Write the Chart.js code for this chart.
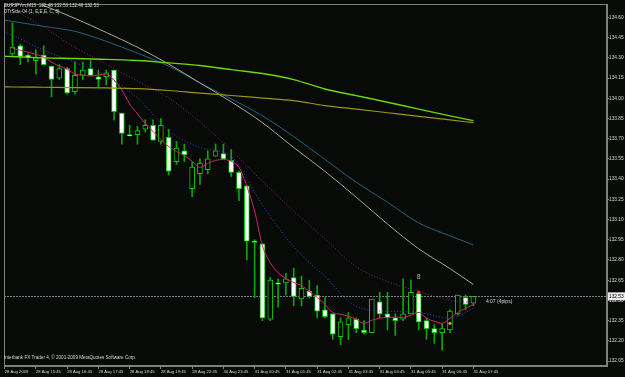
<!DOCTYPE html>
<html>
<head>
<meta charset="utf-8">
<script src="https://cdn.jsdelivr.net/npm/chart.js@4.4.1/dist/chart.umd.min.js"></script>
<style>
  body { margin: 0; background: #070a07; }
  #wrap { width: 625px; height: 377px; }
</style>
</head>
<body>
<div id="wrap"><canvas id="chart" width="625" height="377"></canvas></div>
<script>
// EURJPYm M15, one value per bar (bar 0 = 28 Aug 15:00)
const opens = [134.33,134.39,134.32,134.28,134.32,134.24,134.15,134.22,134.05,134.17,
    134.22,134.16,134.16,134.21,133.89,133.73,133.73,133.77,133.80,133.68,
    133.71,133.53,133.61,133.33,133.44,133.47,133.57,133.59,133.54,133.45,
    133.35,132.94,132.92,132.36,132.63,132.63,132.67,132.51,132.57,132.54,
    132.43,132.40,132.23,132.32,132.36,132.28,132.26,132.49,132.40,132.37,
    132.36,132.40,132.55,132.35,132.29,132.26,132.28,132.40,132.52,132.48];
const highs = [134.56,134.40,134.33,134.36,134.39,134.24,134.25,134.23,134.27,134.27,
    134.28,134.21,134.21,134.21,133.89,133.80,133.79,133.84,133.84,133.85,
    133.77,133.68,133.66,133.53,133.55,133.61,133.66,133.66,133.62,133.46,
    133.35,132.95,132.92,132.67,132.66,132.70,132.74,132.68,132.65,132.61,
    132.52,132.40,132.37,132.41,132.37,132.35,132.51,132.56,132.56,132.40,
    132.66,132.65,132.57,132.37,132.32,132.33,132.43,132.54,132.54,132.53];
const lows = [134.32,134.25,134.27,134.18,134.25,134.01,134.14,134.03,134.03,134.14,
    134.17,134.08,134.10,133.84,133.66,133.72,133.66,133.75,133.69,133.66,
    133.43,133.51,133.53,133.27,133.36,133.44,133.57,133.55,133.42,133.24,
    132.80,132.52,132.35,132.35,132.45,132.54,132.46,132.46,132.52,132.37,
    132.37,132.21,132.17,132.21,132.26,132.25,132.26,132.37,132.28,132.24,
    132.35,132.40,132.28,132.21,132.18,132.13,132.26,132.39,132.43,132.46];
const closes = [134.38,134.31,134.30,134.30,134.25,134.14,134.22,134.04,134.17,134.21,
    134.17,134.14,134.19,133.90,133.74,133.72,133.76,133.80,133.69,133.80,
    133.46,133.63,133.58,133.49,133.52,133.55,133.61,133.55,133.45,133.33,
    132.94,132.93,132.37,132.65,132.62,132.66,132.53,132.59,132.53,132.42,
    132.38,132.25,132.34,132.37,132.29,132.26,132.51,132.40,132.37,132.35,
    132.40,132.56,132.34,132.29,132.26,132.29,132.42,132.54,132.47,132.53];

// fast moving average, every bar
const maFast = [134.372,134.357,134.342,134.327,134.305,134.268,134.239,134.217,134.18,134.173,
    134.165,134.173,134.18,134.136,134.062,133.959,133.885,133.812,133.753,133.694,
    133.642,133.605,133.576,133.532,133.487,133.517,133.539,133.546,133.532,133.487,
    133.347,133.163,132.905,132.78,132.706,132.662,132.633,132.61,132.566,132.522,
    132.47,132.411,132.397,132.382,132.36,132.33,132.353,132.367,132.375,132.375,
    132.375,132.389,132.411,132.367,132.345,132.33,132.367,132.411,132.441,132.47];

// slower averages, read at the left edge and then every 4th bar
const maIdx = [-1,0,4,8,12,16,20,24,28,32,36,40,44,48,52,56,59];
const maBlue = [134.49,134.467,134.357,134.268,134.165,134.003,133.76,133.635,133.568,133.207,132.898,132.677,132.456,132.419,132.411,132.367,132.441];
const maPurple = [134.70,134.666,134.526,134.379,134.254,134.128,134.003,133.826,133.613,133.384,133.163,132.957,132.75,132.64,132.566,132.5,132.485];
const maTeal = [134.58,134.571,134.534,134.497,134.423,134.335,134.239,134.114,133.996,133.87,133.716,133.546,133.377,133.229,133.075,132.979,132.912];
const maGray = [134.83,134.769,134.688,134.593,134.489,134.379,134.254,134.114,133.974,133.819,133.635,133.458,133.266,133.067,132.883,132.736,132.618];
const maOlive = [134.085,134.084,134.082,134.08,134.077,134.072,134.058,134.038,134.021,134.002,133.983,133.946,133.92,133.893,133.866,133.84,133.819];
const maGreen = [134.312,134.31,134.30,134.296,134.289,134.281,134.263,134.244,134.213,134.184,134.139,134.069,134.02,133.971,133.92,133.87,133.834];

const yTicks = [132.05,132.20,132.35,132.50,132.65,132.80,132.95,133.10,133.25,133.40,133.55,133.70,133.85,134.00,134.15,134.30,134.45,134.60];
const xTickIdx = [-1,3,7,11,15,19,23,27,31,35,39,43,47,51,55,59];
const xLabels = ["28 Aug 2009","28 Aug 15:45","28 Aug 16:45","28 Aug 17:45","28 Aug 18:45","28 Aug 19:45",
    "28 Aug 22:45","30 Aug 23:45","31 Aug 00:45","31 Aug 01:45","31 Aug 02:45","31 Aug 03:45",
    "31 Aug 04:45","31 Aug 05:45","31 Aug 06:45","31 Aug 07:45"];

const bid = 132.53;
const fractalUp = [{x: 52, y: 132.67}];
const redMarks = [{x: 52, y: 132.56}];
const goldMarks = [{x: 56, y: 132.33}];

const FONT = "'Liberation Sans', Arial, sans-serif";
const axisColor = "#808080";

const wickData = highs.map((h, i) => ({x: i, y: [lows[i], h]}));
const bodyData = opens.map((o, i) => ({x: i, y: [o, closes[i]]}));
const bodyColors = opens.map((o, i) => closes[i] < o ? "#ffffff" : "#000000");
const sparse = arr => arr.map((v, k) => ({x: maIdx[k], y: v}));

const mtPlugin = {
    id: "mt4",
    beforeDraw(chart) {
        const ctx = chart.ctx;
        ctx.save();
        ctx.fillStyle = "#070a07";
        ctx.fillRect(0, 0, chart.width, chart.height);
        ctx.restore();
    },
    beforeDatasetsDraw(chart) {
        const {ctx, chartArea, scales} = chart;
        const y = Math.round(scales.y.getPixelForValue(bid)) + 0.5;
        ctx.save();
        ctx.strokeStyle = "#7a7f86";
        ctx.setLineDash([2, 1]);
        ctx.lineWidth = 1;
        ctx.beginPath();
        ctx.moveTo(chartArea.left, y);
        ctx.lineTo(chartArea.right, y);
        ctx.stroke();
        ctx.restore();
    },
    afterDraw(chart) {
        const {ctx, chartArea, scales} = chart;
        ctx.save();
        ctx.strokeStyle = axisColor;
        ctx.lineWidth = 1;
        ctx.strokeRect(chartArea.left + 0.5, chartArea.top + 0.5, chartArea.width - 1, chartArea.height - 1);

        ctx.fillStyle = "#d8d8d8";
        ctx.textBaseline = "middle";
        ctx.font = "4.6px " + FONT;
        ctx.fillText("EURJPYm,M15  132.48 132.53 132.46 132.53", 4, 6);
        ctx.fillText("DTrSide-04 (1, E,E,E, C, 8)", 4, 12);
        ctx.fillText("Interbank FX Trader 4, \u00a9 2001-2009 MetaQuotes Software Corp.", 4, 358);

        const yb = scales.y.getPixelForValue(bid);
        ctx.font = "5px " + FONT;
        ctx.fillText("4:07 (4pips)", scales.x.getPixelForValue(60.6), yb + 5);

        ctx.fillStyle = "#b4b4b4";
        ctx.font = "7px " + FONT;
        ctx.textAlign = "center";
        fractalUp.forEach(p => {
            ctx.fillText("8", scales.x.getPixelForValue(p.x), scales.y.getPixelForValue(p.y));
        });

        ctx.textAlign = "left";
        ctx.fillStyle = "#ececec";
        ctx.fillRect(chartArea.right + 1, yb - 4, chart.width - chartArea.right - 1, 8);
        ctx.fillStyle = "#000000";
        ctx.font = "4.8px " + FONT;
        ctx.fillText(bid.toFixed(2), chartArea.right + 2, yb);
        ctx.restore();
    }
};

const lineDs = (label, data, color, dash, width) => ({
    type: "line", label: label, data: data, borderColor: color, borderWidth: width || 1,
    borderDash: dash || [], pointRadius: 0, cubicInterpolationMode: "monotone", order: 1
});

new Chart(document.getElementById("chart"), {
    type: "bar",
    data: {
        datasets: [
            lineDs("green", sparse(maGreen), "#6cd80a", [], 1.4),
            lineDs("olive", sparse(maOlive), "#9c9614", [], 1.2),
            lineDs("gray", sparse(maGray), "#a8a89c"),
            lineDs("teal", sparse(maTeal), "#24607e"),
            lineDs("purple", sparse(maPurple), "#8a1a78", [1, 2]),
            lineDs("blue", sparse(maBlue), "#3c3cd8", [1, 2]),
            lineDs("fast", maFast.map((v, i) => ({x: i, y: v})), "#cc2468"),
            {type: "scatter", data: redMarks, pointRadius: 1.6, backgroundColor: "#ff2828", borderWidth: 0, order: 0},
            {type: "scatter", data: goldMarks, pointRadius: 1.6, backgroundColor: "#d8a030", borderWidth: 0, order: 0},
            {label: "wicks", data: wickData, backgroundColor: "#0aa50a", barThickness: 1, grouped: false, order: 3},
            {label: "bodies", data: bodyData, backgroundColor: bodyColors, borderColor: "#08cc08",
             borderWidth: 1, borderSkipped: false, barThickness: 5, minBarLength: 1, grouped: false, order: 2}
        ]
    },
    options: {
        responsive: false,
        animation: false,
        devicePixelRatio: 1,
        layout: {padding: {left: 1, top: 1, right: 0, bottom: 0}},
        plugins: {legend: {display: false}, tooltip: {enabled: false}},
        scales: {
            x: {
                type: "linear", min: -1.08, max: 76.1, offset: false,
                afterFit: s => { s.height = 11; },
                afterBuildTicks: s => { s.ticks = xTickIdx.map(v => ({value: v})); },
                ticks: {
                    autoSkip: false, maxRotation: 0, minRotation: 0, align: "start", padding: 0,
                    color: "#d8d8d8", font: {family: FONT, size: 4.2},
                    callback: v => xLabels[xTickIdx.indexOf(v)]
                },
                grid: {drawOnChartArea: false, tickLength: 3, tickColor: axisColor, offset: false},
                border: {display: true, color: axisColor}
            },
            y: {
                position: "right", min: 132.013, max: 134.70,
                afterFit: s => { s.width = 18; },
                afterBuildTicks: s => { s.ticks = yTicks.map(v => ({value: v})); },
                ticks: {
                    padding: 0, color: "#d8d8d8", font: {family: FONT, size: 4.8},
                    callback: v => v.toFixed(2)
                },
                grid: {drawOnChartArea: false, tickLength: 2, tickColor: axisColor},
                border: {display: true, color: axisColor}
            }
        }
    },
    plugins: [mtPlugin]
});
</script>
</body>
</html>
